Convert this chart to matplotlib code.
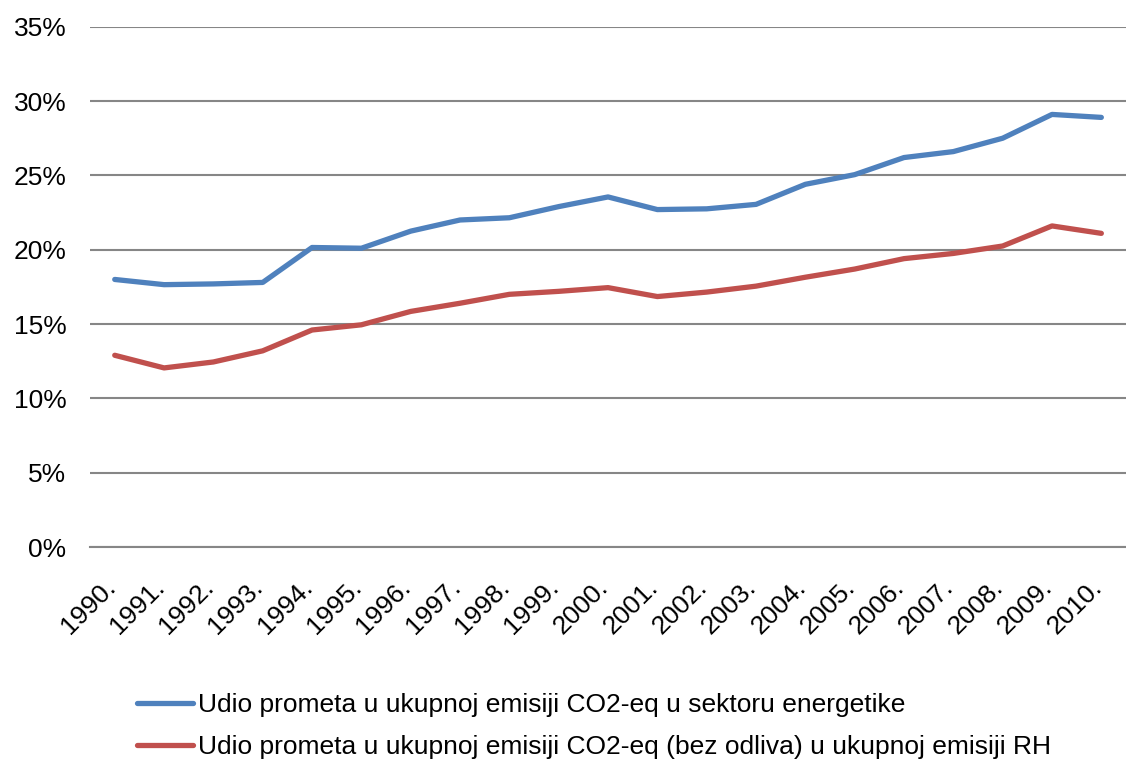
import matplotlib
matplotlib.use("Agg")
import matplotlib.pyplot as plt
from matplotlib.ticker import FuncFormatter
from matplotlib.transforms import ScaledTranslation

plt.rcParams['font.family'] = ['Liberation Sans', 'DejaVu Sans']

years = [str(y) + "." for y in range(1990, 2011)]
energetika = [18.0, 17.65, 17.7, 17.8, 20.15, 20.1, 21.25, 22.0, 22.15, 22.9, 23.55,
              22.7, 22.75, 23.05, 24.4, 25.05, 26.2, 26.6, 27.5, 29.1, 28.9]
ukupno_rh = [12.9, 12.05, 12.45, 13.2, 14.6, 14.95, 15.85, 16.4, 17.0, 17.2, 17.45,
             16.85, 17.15, 17.55, 18.15, 18.7, 19.4, 19.75, 20.25, 21.6, 21.1]
labels = ["Udio prometa u ukupnoj emisiji CO2-eq u sektoru energetike",
          "Udio prometa u ukupnoj emisiji CO2-eq (bez odliva) u ukupnoj emisiji RH"]

fig = plt.figure(figsize=(11.26, 7.63), dpi=100)
ax = fig.add_axes([0.080, 0.283, 0.92, 0.682])

x = range(len(years))
ax.plot(x, energetika, color="#4F81BD", lw=3.8, label=labels[0], solid_capstyle="round")
ax.plot(x, ukupno_rh, color="#C0504D", lw=3.8, label=labels[1], solid_capstyle="round")

ax.set_xlim(-0.5, len(years) - 0.5)
ax.set_ylim(0, 35)
ax.set_yticks(range(0, 36, 5))
ax.yaxis.set_major_formatter(FuncFormatter(lambda v, p: f"{v:.0f}%"))
ax.grid(axis="y", color="#868686", lw=1.5)
ax.set_axisbelow(True)
for s in ["top", "right", "left"]:
    ax.spines[s].set_visible(False)
ax.spines["bottom"].set_color("#868686")
ax.spines["bottom"].set_linewidth(1.5)
ax.tick_params(length=0, labelsize=19)
ax.tick_params(axis="y", pad=17)
ax.set_xticks(list(x))
ax.set_xticklabels(years, rotation=45, ha="right", rotation_mode="anchor")
ax.tick_params(axis="x", pad=14)
shift = ScaledTranslation(-12 / 100, -8 / 100, fig.dpi_scale_trans)
for lbl in ax.get_xticklabels():
    lbl.set_transform(lbl.get_transform() + shift)

fig.legend(loc="upper left", bbox_to_anchor=(0.101, 0.123), bbox_transform=fig.transFigure,
           frameon=False, fontsize=19, handlelength=2.1, handletextpad=0.2,
           labelspacing=0.7)

fig.savefig("out.png", dpi=100)
